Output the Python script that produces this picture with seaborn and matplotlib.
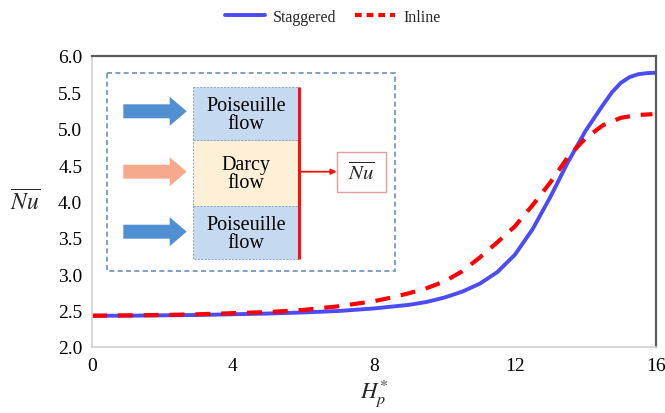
import numpy as np
import pandas as pd
import matplotlib
matplotlib.use("Agg")
import matplotlib.pyplot as plt
from matplotlib.patches import Rectangle, FancyArrow
from matplotlib.lines import Line2D
import seaborn as sns

# Heat-transfer data: average Nusselt number vs. dimensionless porous height
h_staggered = [0, 1, 2, 3, 4, 5, 6, 7, 8, 8.5, 9, 9.5, 10, 10.5, 11, 11.5,
               12, 12.5, 13, 13.5, 14, 14.25, 14.5, 14.75, 15, 15.25, 15.5,
               15.75, 16]
nu_staggered = [2.43, 2.43, 2.435, 2.44, 2.45, 2.46, 2.475, 2.495, 2.53,
                2.555, 2.58, 2.62, 2.68, 2.76, 2.87, 3.03, 3.27, 3.62, 4.06,
                4.54, 4.97, 5.15, 5.33, 5.50, 5.63, 5.71, 5.75, 5.765, 5.77]

h_inline = [0, 1, 2, 3, 4, 5, 6, 7, 8, 8.5, 9, 9.5, 10, 10.5, 11, 11.5,
            12, 12.5, 13, 13.5, 14, 14.5, 15, 15.5, 15.9]
nu_inline = [2.43, 2.435, 2.44, 2.45, 2.465, 2.48, 2.51, 2.56, 2.63, 2.68,
             2.74, 2.81, 2.90, 3.04, 3.23, 3.44, 3.66, 3.95, 4.26, 4.61,
             4.87, 5.05, 5.15, 5.19, 5.20]

x_ticks = [0, 4, 8, 12, 16]
y_ticks = [2.0, 2.5, 3.0, 3.5, 4.0, 4.5, 5.0, 5.5, 6.0]

df_st = pd.DataFrame({"H": h_staggered, "Nu": nu_staggered})
df_in = pd.DataFrame({"H": h_inline, "Nu": nu_inline})

sns.set_theme(style="white")
plt.rcParams["font.family"] = ["Liberation Serif", "DejaVu Serif"]
plt.rcParams["mathtext.fontset"] = "stix"

W, H = 665, 414
fig = plt.figure(figsize=(W / 100, H / 100), dpi=100)
ax = fig.add_axes([92 / W, 1 - 348 / H, (656 - 92) / W, (348 - 57) / H])

blue = "#4b4bf7"
red = "#ff0000"
sns.lineplot(data=df_st, x="H", y="Nu", ax=ax, color=blue, linewidth=2.8,
             label="Staggered", legend=False, solid_joinstyle="round")
sns.lineplot(data=df_in, x="H", y="Nu", ax=ax, color=red, linewidth=3.0,
             label="Inline", legend=False, dash_joinstyle="round")
ax.lines[1].set_linestyle((0, (3.6, 2.6)))

ax.set_xlim(0, 16)
ax.set_ylim(2.0, 6.0)
ax.set_xticks(x_ticks)
ax.set_xticklabels([str(t) for t in x_ticks])
ax.set_yticks(y_ticks)
ax.set_yticklabels([f"{t:.1f}" for t in y_ticks])
ax.tick_params(axis="both", length=0, labelsize=14, colors="black")
ax.tick_params(axis="y", pad=7)
ax.tick_params(axis="x", pad=7)
for side in ("top", "right"):
    ax.spines[side].set_color("#5a5a5a")
    ax.spines[side].set_linewidth(1.6)
for side in ("left", "bottom"):
    ax.spines[side].set_color("#d2d2d2")
    ax.spines[side].set_linewidth(1.2)

ax.set_xlabel(r"$H_p^{*}$", fontsize=16.5, labelpad=1.5)
ax.set_ylabel(r"$\overline{Nu}$", fontsize=17, rotation=0, labelpad=24,
              va="center")

handles = [Line2D([], [], color=blue, lw=2.8),
           Line2D([], [], color=red, lw=3.0, linestyle=(0, (1.6, 1.2)))]
fig.legend(handles, ["Staggered", "Inline"], loc="center",
           bbox_to_anchor=(0.5, 1 - 17.8 / H), ncol=2, frameon=False,
           fontsize=11.5, handlelength=2.5, columnspacing=1.2,
           handletextpad=0.5)

# Schematic of the layered channel, drawn in pixel units
sk = fig.add_axes([0, 0, 1, 1])
sk.set_xlim(0, W)
sk.set_ylim(H, 0)
sk.axis("off")
sk.patch.set_alpha(0)

sk.add_patch(Rectangle((106.7, 74), 395 - 106.7, 271.7 - 74, fill=False,
                       edgecolor="#6b8fb4", lw=1.2, linestyle=(0, (3, 2))))

col_x0, col_x1 = 192.7, 299.3
layers = [(88.3, 141.0, "#c5d9f0", "Poiseuille\nflow"),
          (141.0, 206.7, "#fdf0d6", "Darcy\nflow"),
          (206.7, 260.0, "#c5d9f0", "Poiseuille\nflow")]
for y0, y1, fc, txt in layers:
    sk.add_patch(Rectangle((col_x0, y0), col_x1 - col_x0, y1 - y0,
                           facecolor=fc, edgecolor="#8aa6c4", lw=0.7,
                           linestyle=(0, (2, 1.5))))
    sk.text((col_x0 + col_x1) / 2, (y0 + y1) / 2 + 1, txt, ha="center",
            va="center", fontsize=14.5, linespacing=0.95, color="black")

sk.plot([col_x1, col_x1], [88.3, 260], color="#ff1010", lw=2.2,
        solid_capstyle="butt")

arrow_rows = [(112.3, "#4f8fd2"), (172.7, "#f6a98c"), (232.7, "#4f8fd2")]
for yc, c in arrow_rows:
    sk.add_patch(FancyArrow(123.3, yc, 186.7 - 123.3, 0, width=14,
                            head_width=29, head_length=17,
                            length_includes_head=True, color=c, lw=0))

sk.annotate("", xy=(336.7, 172.7), xytext=(col_x1, 172.7),
            arrowprops=dict(arrowstyle="-|>", color="#ff1010", lw=1.3,
                            mutation_scale=8, shrinkA=0, shrinkB=0))
sk.add_patch(Rectangle((336.7, 153.3), 386 - 336.7, 192.7 - 153.3,
                       facecolor="white", edgecolor="#e79c9c", lw=1.0))
sk.text(361.3, 174, r"$\overline{Nu}$", ha="center", va="center",
        fontsize=15)

fig.savefig("out.png", dpi=100)
